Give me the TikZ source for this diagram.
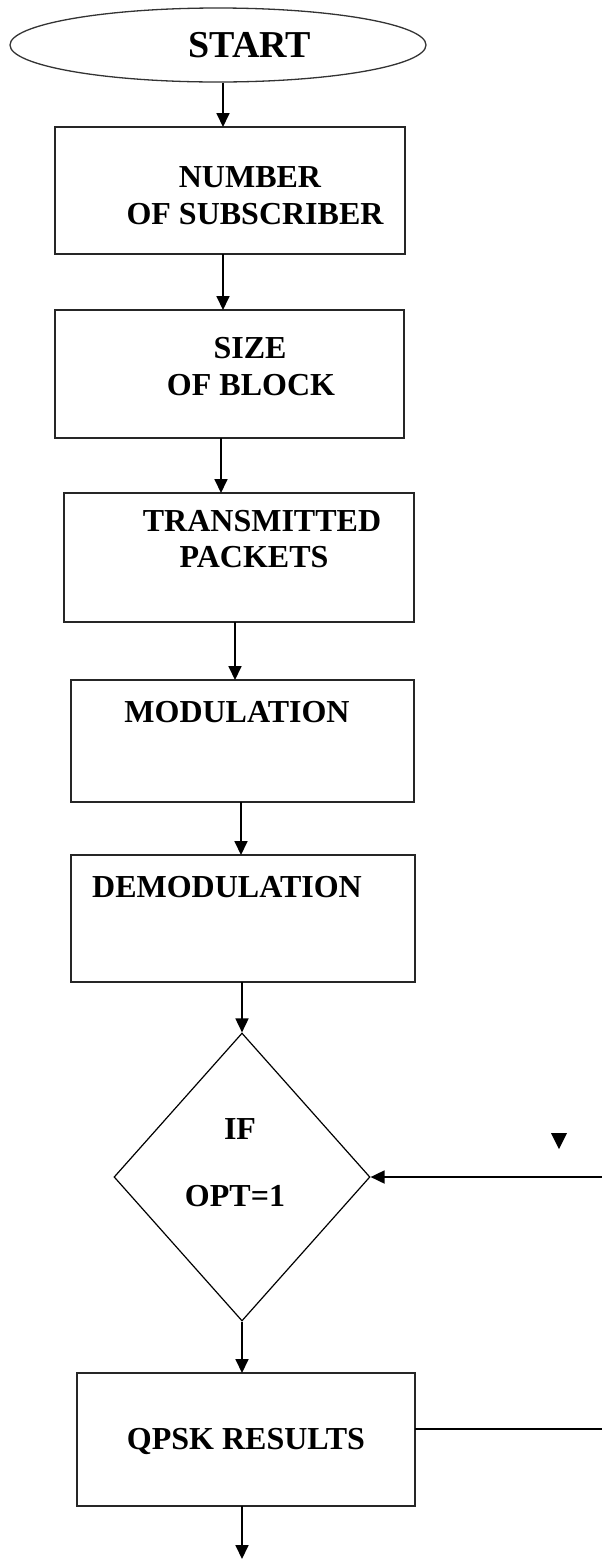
\documentclass[tikz,border=0pt]{standalone}
\usepackage{fontspec}
\setmainfont{Liberation Serif}
\usetikzlibrary{shapes.geometric,arrows.meta}

\tikzset{
  stepbox/.style={draw=black!85, line width=1.6pt, rectangle, inner sep=0pt, outer sep=0pt},
  label30/.style={font=\bfseries\fontsize{32}{38}\selectfont, inner sep=0pt},
  arr/.style={draw=black, line width=1.8pt, -{Triangle[width=13pt,length=14pt]}},
  plain/.style={draw=black, line width=1.4pt},
}

\begin{document}
\begin{tikzpicture}[x=1pt,y=-1pt]
  \fill[white] (0,0) rectangle (602,1559);
  \useasboundingbox (0,0) rectangle (602,1559);

  % start terminal
  \node[draw=black!80, line width=1.3pt, ellipse, minimum width=416pt, minimum height=74pt, inner sep=0pt] (start) at (218,45) {};
  \node[font=\bfseries\fontsize{38}{44}\selectfont, inner sep=0pt] (tstart) at (250,45) {START};

  % process blocks
  \node[stepbox, minimum width=350pt, minimum height=127pt] (n1) at (230,190.5) {};
  \node[label30] (t1a) at (250,177) {NUMBER};
  \node[label30] (t1b) at (255,214) {OF SUBSCRIBER};

  \node[stepbox, minimum width=349pt, minimum height=128pt] (n2) at (229.5,374) {};
  \node[label30] (t2a) at (250,348) {SIZE};
  \node[label30] (t2b) at (251,385) {OF BLOCK};

  \node[stepbox, minimum width=350pt, minimum height=129pt] (n3) at (239,557.5) {};
  \node[label30] (t3a) at (262,521) {TRANSMITTED};
  \node[label30] (t3b) at (254,557) {PACKETS};

  \node[stepbox, minimum width=343pt, minimum height=122pt] (n4) at (242.5,741) {};
  \node[label30] (t4) at (237,712) {MODULATION};

  \node[stepbox, minimum width=344pt, minimum height=127pt] (n5) at (243,918.5) {};
  \node[label30] (t5) at (227,887) {DEMODULATION};

  % decision
  \node[draw=black, line width=1.2pt, diamond, minimum width=256pt, minimum height=288pt, inner sep=0pt] (dec) at (242,1177) {};
  \node[label30] (td1) at (240,1129) {IF};
  \node[label30] (td2) at (235,1196) {OPT=1};

  % result block
  \node[stepbox, minimum width=338pt, minimum height=133pt] (n6) at (246,1439.5) {};
  \node[label30] (t6) at (246,1441) {QPSK RESULTS};

  % free ends at the right and bottom edges
  \coordinate (loopin) at (602,1177);
  \coordinate (loopout) at (602,1429);
  \coordinate (fin) at (242,1559);

  % main flow
  \draw[arr] ([xshift=5pt]start.south) -- ([xshift=5pt]start.south |- n1.north);
  \draw[arr] ([xshift=-7pt]n1.south) -- ([xshift=-7pt]n1.south |- n2.north);
  \draw[arr] ([xshift=-8.5pt]n2.south) -- ([xshift=-8.5pt]n2.south |- n3.north);
  \draw[arr] ([xshift=-4pt]n3.south) -- ([xshift=-4pt]n3.south |- n4.north);
  \draw[arr] ([xshift=-1.5pt]n4.south) -- ([xshift=-1.5pt]n4.south |- n5.north);
  \draw[arr] (dec.north |- n5.south) -- (dec.north);
  \draw[arr] (dec.south) -- (dec.south |- n6.north);
  \draw[arr] (n6.south -| fin) -- (fin);

  % loop back into the decision
  \draw[arr] (loopin) -- (dec.east);
  \draw[plain] (n6.east |- loopout) -- (loopout);

  % stray arrowhead
  \fill[black] (551,1133) -- (567,1133) -- (559,1149) -- cycle;
\end{tikzpicture}
\end{document}
